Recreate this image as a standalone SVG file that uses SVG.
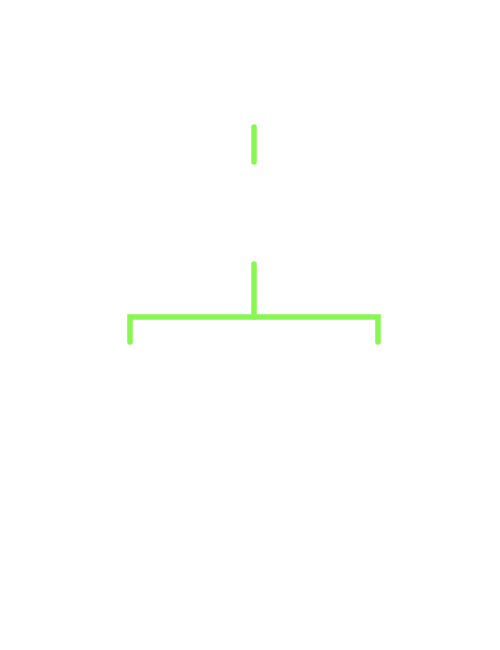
<svg xmlns="http://www.w3.org/2000/svg" width="500" height="650" viewBox="0 0 500 650">
<style>
.c{fill:none;stroke:#88f752;stroke-width:5.5;stroke-linecap:round;stroke-linejoin:miter}
</style>
<rect width="500" height="650" fill="#ffffff"/>
<g id="connectors">
<path class="c" d="M254,127 V162"/>
<path class="c" d="M254,264 V317"/>
<path class="c" d="M130,342 V317 H378 V342"/>
</g>
</svg>
